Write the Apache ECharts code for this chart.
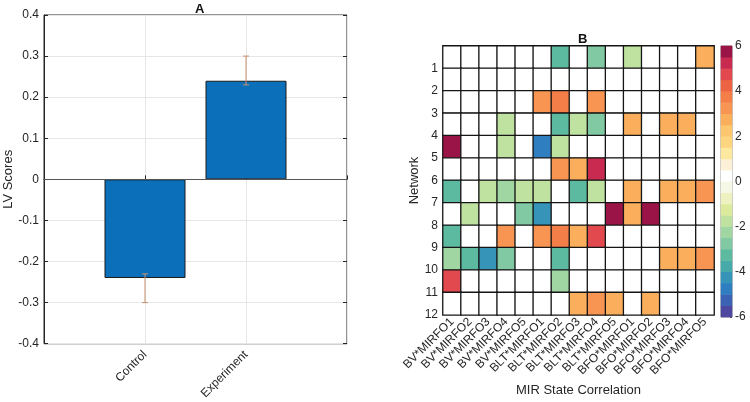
<!DOCTYPE html>
<html>
<head>
<meta charset="utf-8">
<script src="https://cdn.jsdelivr.net/npm/echarts@6/dist/echarts.min.js"></script>
<style>
html, body { margin: 0; padding: 0; background: #fff; }
#main { width: 750px; height: 402px; }
</style>
</head>
<body>
<div id="main"></div>
<script>
// 面板 A：LV 分数
const groups = ['Control', 'Experiment']
const lvScores = [-0.24, 0.24]
const errLow = [-0.30, 0.23]
const errHigh = [-0.23, 0.30]

// 面板 B：网络 x MIR 状态相关
const mirStates = ['BV*MIRFO1', 'BV*MIRFO2', 'BV*MIRFO3', 'BV*MIRFO4', 'BV*MIRFO5',
  'BLT*MIRFO1', 'BLT*MIRFO2', 'BLT*MIRFO3', 'BLT*MIRFO4', 'BLT*MIRFO5',
  'BFO*MIRFO1', 'BFO*MIRFO2', 'BFO*MIRFO3', 'BFO*MIRFO4', 'BFO*MIRFO5']
const networks = ['1', '2', '3', '4', '5', '6', '7', '8', '9', '10', '11', '12']
const net1 = [0, 0, 0, 0, 0, 0, -3.2, 0, -2.7, 0, -1.8, 0, 0, 0, 2.7]
const net2 = [0, 0, 0, 0, 0, 0, 0, 0, 0, 0, 0, 0, 0, 0, 0]
const net3 = [0, 0, 0, 0, 0, 3.2, 3.8, 0, 3.2, 0, 0, 0, 0, 0, 0]
const net4 = [0, 0, 0, -1.8, 0, 0, -3.2, -1.8, -2.7, 0, 2.7, 0, 2.7, 2.7, 0]
const net5 = [5.8, 0, 0, -1.8, 0, -4.7, -1.8, 0, 0, 0, 0, 0, 0, 0, 0]
const net6 = [0, 0, 0, 0, 0, 0, 3.2, 2.7, 5.2, 0, 0, 0, 0, 0, 0]
const net7 = [-3.2, 0, -1.8, -2.2, -1.8, -1.8, 0, -3.2, -1.8, 0, 2.7, 0, 2.7, 2.7, 3.2]
const net8 = [0, -1.8, 0, 0, -2.7, -4.3, 0, 0, 0, 5.8, 2.7, 5.5, 0, 0, 0]
const net9 = [-3.2, 0, 0, 3.2, 0, 3.2, 3.8, 2.7, 4.7, 0, 0, 0, 0, 0, 0]
const net10 = [-2.2, -3.2, -4.3, -2.7, 0, 0, -3.2, 0, 0, 0, 0, 0, 2.7, 2.7, 3.2]
const net11 = [4.7, 0, 0, 0, 0, 0, -2.5, 0, 0, 0, 0, 0, 0, 0, 0]
const net12 = [0, 0, 0, 0, 0, 0, 0, 2.7, 3.2, 2.7, 0, 2.7, 0, 0, 0]
const netRows = [net1, net2, net3, net4, net5, net6, net7, net8, net9, net10, net11, net12]

// 色条：24 档，每档 0.5
const binMids = [-5.75, -5.25, -4.75, -4.25, -3.75, -3.25, -2.75, -2.25, -1.75, -1.25, -0.75, -0.25,
  0.25, 0.75, 1.25, 1.75, 2.25, 2.75, 3.25, 3.75, 4.25, 4.75, 5.25, 5.75]
const binColors = ['#4d479f', '#3c63b3', '#2f7ec0', '#3594b8', '#45aaa8', '#5cbaa0', '#80c9a2', '#a0d6a2',
  '#bfe2a0', '#dcea9e', '#eef2c0', '#f6f8e6',
  '#ffffff', '#fcf1d8', '#fde8a0', '#fdd57e', '#fdc66f', '#fbaf5c', '#f99552', '#f47e48',
  '#ec6444', '#e2494f', '#c92a50', '#9b1447']
const cbTicks = [-6, -4, -2, 0, 2, 4, 6]

const FONT = 'Liberation Sans, Arial, sans-serif'
const TXT = '#262626'

const heatData = []
netRows.forEach((row, r) => {
  row.forEach((v, c) => heatData.push([c, r, v]))
})

const pieces = binMids.map((m, i) => ({ gte: m - 0.25, lt: m + 0.25, color: binColors[i] }))
pieces[pieces.length - 1] = { gte: 5.5, lte: 6, color: binColors[23] }

const chart = echarts.init(document.getElementById('main'))

const option = {
  animation: false,
  backgroundColor: '#fff',
  textStyle: { fontFamily: FONT, color: TXT },
  title: [
    { text: 'A', left: 190, top: -2,
      textStyle: { fontSize: 13, fontWeight: 'bold', color: '#111', fontFamily: FONT } },
    { text: 'B', left: 573, top: 28,
      textStyle: { fontSize: 13, fontWeight: 'bold', color: '#111', fontFamily: FONT } }
  ],
  grid: [
    { left: 44, right: 403, top: 15, bottom: 55, show: true, borderColor: TXT, borderWidth: 1 },
    { left: 443, right: 36, top: 46, bottom: 85 },
    { left: 721, width: 11, top: 46, bottom: 85, show: true, borderColor: '#8a8a8a', borderWidth: 1 }
  ],
  visualMap: {
    type: 'piecewise',
    show: false,
    seriesIndex: [2, 3],
    dimension: 2,
    pieces: pieces
  },
  xAxis: [
    {
      gridIndex: 0, type: 'value', min: 0, max: 3, interval: 1,
      axisLine: { lineStyle: { color: TXT } },
      axisTick: { inside: true, length: 4, lineStyle: { color: TXT } },
      splitLine: { show: true, lineStyle: { color: '#e6e6e6' } },
      axisLabel: {
        rotate: 45, fontSize: 12, color: TXT, margin: 9,
        formatter: v => groups[v - 1] || ''
      }
    },
    {
      gridIndex: 1, type: 'category', data: mirStates,
      axisLine: { show: false }, axisTick: { show: false },
      axisLabel: { rotate: 45, interval: 0, fontSize: 12, color: TXT, margin: 5 },
      name: 'MIR State Correlation', nameLocation: 'middle', nameGap: 64,
      nameTextStyle: { fontSize: 13, color: TXT }
    },
    {
      gridIndex: 2, type: 'category', data: [''],
      axisLine: { show: false }, axisTick: { show: false }, axisLabel: { show: false }
    }
  ],
  yAxis: [
    {
      gridIndex: 0, type: 'value', min: -0.4, max: 0.4, interval: 0.1,
      axisLine: { show: true, lineStyle: { color: TXT } },
      axisTick: { show: true, inside: true, length: 4, lineStyle: { color: TXT } },
      splitLine: { show: true, lineStyle: { color: '#e6e6e6' } },
      axisLabel: { fontSize: 12, color: TXT, margin: 5, formatter: v => String(Math.round(v * 10) / 10) },
      name: 'LV Scores', nameLocation: 'middle', nameGap: 27,
      nameTextStyle: { fontSize: 13, color: TXT }
    },
    {
      gridIndex: 0, type: 'value', min: -0.4, max: 0.4, interval: 0.1, position: 'right',
      axisLine: { show: false },
      axisTick: { show: true, inside: true, length: 4, lineStyle: { color: TXT } },
      splitLine: { show: false }, axisLabel: { show: false }
    },
    {
      gridIndex: 1, type: 'category', data: networks, inverse: true,
      axisLine: { show: false }, axisTick: { show: false }, axisLabel: { show: false }
    },
    {
      gridIndex: 1, type: 'value', min: 0, max: 12, interval: 1, inverse: true, position: 'left',
      axisLine: { show: false }, axisTick: { show: false }, splitLine: { show: false },
      axisLabel: { fontSize: 12, color: TXT, margin: 5, formatter: v => v === 0 ? '' : networks[v - 1] },
      name: 'Network', nameLocation: 'middle', nameGap: 19,
      nameTextStyle: { fontSize: 13, color: TXT }
    },
    {
      gridIndex: 2, type: 'category', data: binMids.map(String),
      axisLine: { show: false }, axisTick: { show: false }, axisLabel: { show: false }
    },
    {
      gridIndex: 2, type: 'value', min: -6, max: 6, interval: 2, position: 'right',
      axisLine: { show: false },
      axisTick: { show: true, inside: true, length: 2, lineStyle: { color: '#555' } },
      splitLine: { show: false },
      axisLabel: { fontSize: 12, color: TXT, margin: 3, formatter: v => cbTicks.includes(v) ? String(v) : '' }
    }
  ],
  series: [
    {
      type: 'bar', xAxisIndex: 0, yAxisIndex: 0,
      data: groups.map((g, i) => [i + 1, lvScores[i]]),
      barWidth: 81,
      itemStyle: { color: '#0c6fba', borderColor: '#1b1b1b', borderWidth: 1 },
      markLine: {
        silent: true, symbol: 'none', label: { show: false },
        lineStyle: { color: '#555', width: 1, type: 'solid' },
        data: [{ yAxis: 0 }]
      },
      z: 2
    },
    {
      type: 'custom', xAxisIndex: 0, yAxisIndex: 0,
      data: groups.map((g, i) => [i + 1, errLow[i], errHigh[i]]),
      encode: { x: 0, y: [1, 2] },
      renderItem: (params, api) => {
        const lo = api.coord([api.value(0), api.value(1)])
        const hi = api.coord([api.value(0), api.value(2)])
        const style = { stroke: '#c8906e', lineWidth: 1 }
        return {
          type: 'group',
          children: [
            { type: 'line', shape: { x1: lo[0], y1: lo[1], x2: hi[0], y2: hi[1] }, style },
            { type: 'line', shape: { x1: lo[0] - 3, y1: lo[1], x2: lo[0] + 3, y2: lo[1] }, style },
            { type: 'line', shape: { x1: hi[0] - 3, y1: hi[1], x2: hi[0] + 3, y2: hi[1] }, style }
          ]
        }
      },
      z: 5
    },
    {
      type: 'heatmap', xAxisIndex: 1, yAxisIndex: 2,
      data: heatData,
      itemStyle: { borderColor: '#151515', borderWidth: 1.3 }
    },
    {
      type: 'heatmap', xAxisIndex: 2, yAxisIndex: 4,
      data: binMids.map((m, i) => [0, i, m])
    }
  ]
}

chart.setOption(option)
</script>
</body>
</html>
